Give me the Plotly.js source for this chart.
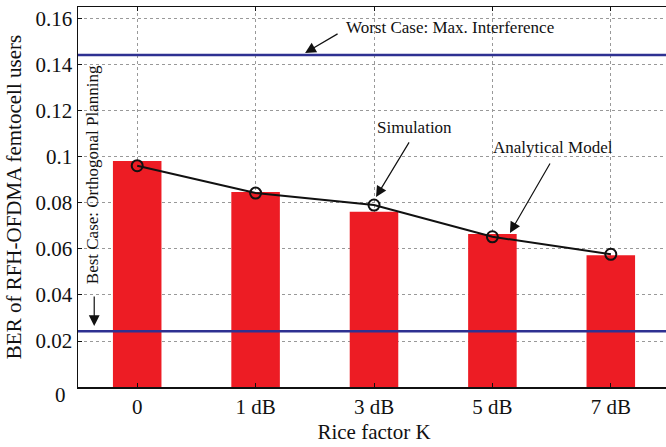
<!DOCTYPE html>
<html>
<head>
<meta charset="utf-8">
<script src="https://cdn.plot.ly/plotly-3.0.1.min.js"></script>
<style>html,body{margin:0;padding:0;overflow:hidden;background:#fff}</style>
</head>
<body>
<div id="chart"></div>
<script>
const categories = ["0", "1 dB", "3 dB", "5 dB", "7 dB"];
const barValues = [0.0983, 0.0848, 0.0762, 0.0665, 0.0573];
const lineValues = [0.0962, 0.0843, 0.0791, 0.0653, 0.0577];
const worstCase = 0.1443;
const bestCase = 0.0242;
const yTickVals = [0, 0.02, 0.04, 0.06, 0.08, 0.1, 0.12, 0.14, 0.16];
const yTickText = ["", "0.02", "0.04", "0.06", "0.08", "0.1", "0.12", "0.14", "0.16"];

const F = "'Liberation Serif', 'Times New Roman', serif";
const idx = categories.map((c, i) => i);

const traces = [
  {type: "bar", x: idx, y: barValues, width: 0.41, marker: {color: "#ed1c24", line: {width: 0}}, hoverinfo: "skip"},
  {type: "scatter", mode: "lines+markers", x: idx, y: lineValues,
   line: {color: "#111", width: 2},
   marker: {symbol: "circle-open", size: 11, color: "#111", line: {width: 2, color: "#111"}}, hoverinfo: "skip"}
];

const arrow = (x, y, ax, ay) => ({x: x, y: y, xref: "x", yref: "y", axref: "x", ayref: "y", ax: ax, ay: ay, text: "",
  font: {size: 1}, showarrow: true, arrowhead: 2, arrowsize: 1.8, arrowwidth: 1.2, arrowcolor: "#111", standoff: 0, startstandoff: 0});

const layout = {
  width: 670, height: 447,
  margin: {l: 78, r: 0, t: 7, b: 60},
  paper_bgcolor: "#fff", plot_bgcolor: "#fff",
  showlegend: false,
  font: {family: F, size: 21, color: "#111"},
  xaxis: {
    range: [-0.5, 4.5], tickvals: idx, ticktext: categories,
    showline: true, linecolor: "#111", linewidth: 1.5, mirror: "ticks",
    ticks: "inside", ticklen: 4, tickcolor: "#111",
    showgrid: true, gridcolor: "#999", griddash: "dot", gridwidth: 1,
    zeroline: false,
    tickfont: {family: F, size: 21, color: "#111"},
    title: {text: "Rice factor K", font: {family: F, size: 21, color: "#111"}, standoff: 6}
  },
  yaxis: {
    range: [0, 0.1652], tickvals: yTickVals, ticktext: yTickText,
    showline: true, linecolor: "#111", linewidth: 1.5,
    ticks: "inside", ticklen: 4, tickcolor: "#111",
    showgrid: true, gridcolor: "#999", griddash: "dot", gridwidth: 1,
    zeroline: false,
    tickfont: {family: F, size: 21, color: "#111"},
    title: {text: "BER of RFH-OFDMA femtocell users", font: {family: F, size: 21, color: "#111"}, standoff: 8}
  },
  shapes: [
    {type: "line", xref: "paper", x0: 0, x1: 1, yref: "y", y0: worstCase, y1: worstCase, line: {color: "#2e3192", width: 2.5}},
    {type: "line", xref: "paper", x0: 0, x1: 1, yref: "y", y0: bestCase, y1: bestCase, line: {color: "#2e3192", width: 2.5}}
  ],
  annotations: [
    {x: 2.64, y: 0.1565, xref: "x", yref: "y", text: "Worst Case: Max. Interference", showarrow: false, font: {family: F, size: 17, color: "#111"}},
    {x: -0.371, y: 0.0922, xref: "x", yref: "y", text: "Best Case: Orthogonal Planning", textangle: -90, showarrow: false, font: {family: F, size: 17, color: "#111"}},
    {x: 2.346, y: 0.113, xref: "x", yref: "y", text: "Simulation", showarrow: false, font: {family: F, size: 17, color: "#111"}},
    {x: 3.51, y: 0.1043, xref: "x", yref: "y", text: "Analytical Model", showarrow: false, font: {family: F, size: 17, color: "#111"}},
    {x: 0, y: 0, xref: "paper", yref: "y", xanchor: "right", yanchor: "middle", xshift: -10, yshift: -8, text: "0", showarrow: false, font: {family: F, size: 21, color: "#111"}},
    arrow(1.418, 0.1452, 1.705, 0.1539),
    arrow(-0.363, 0.0265, -0.363, 0.0400),
    arrow(2.017, 0.0826, 2.304, 0.1070),
    arrow(3.148, 0.067, 3.494, 0.0978)
  ]
};

Plotly.newPlot("chart", traces, layout, {staticPlot: true, displayModeBar: false});
</script>
</body>
</html>
